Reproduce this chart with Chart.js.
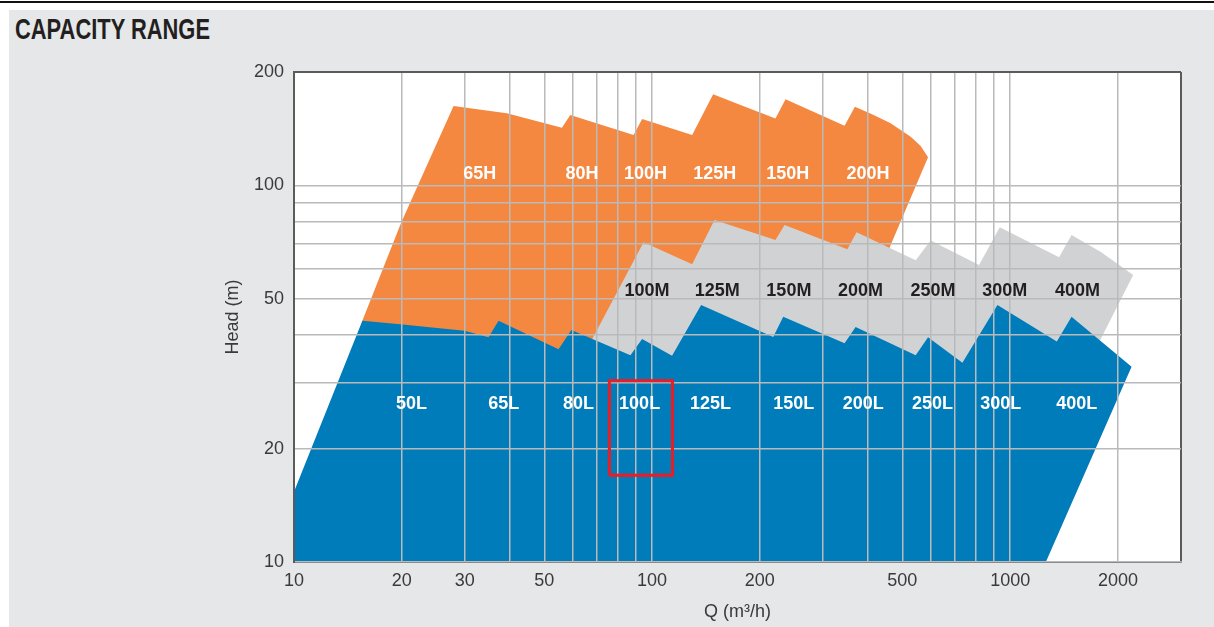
<!DOCTYPE html>
<html>
<head>
<meta charset="utf-8">
<title>Capacity range</title>
<script src="https://cdn.jsdelivr.net/npm/chart.js@4.4.1/dist/chart.umd.min.js"></script>
<style>
  html, body { margin: 0; padding: 0; background: #fff; }
  body { width: 1214px; height: 627px; position: relative; overflow: hidden; }
  #rule { position: absolute; left: 0; top: 1px; width: 1214px; height: 2px; background: #111; }
  #panel { position: absolute; left: 9px; top: 10px; right: 0; bottom: 0; background: #e6e7e8; }
  #heading { position: absolute; left: 15px; top: 14px; font: bold 30px/30px "Liberation Sans", Arial, sans-serif; color: #231f20; transform-origin: 0 0; white-space: nowrap; }
  #graph { position: absolute; left: 0; top: 0; }
</style>
</head>
<body>
<div id="rule"></div>
<div id="panel"></div>
<div id="heading">CAPACITY RANGE</div>
<canvas id="graph" width="1214" height="627"></canvas>
<script>
// axis ticks (grid lines) and which of them carry a label
var qTicks = [10, 20, 30, 40, 50, 60, 70, 80, 90, 100, 200, 300, 400, 500, 600, 700, 800, 900, 1000, 2000, 3000];
var qLabels = [10, 20, 30, 50, 100, 200, 500, 1000, 2000];
var headTicks = [10, 20, 30, 40, 50, 60, 70, 80, 90, 100, 200];
var headLabels = [10, 20, 50, 100, 200];

// H range (orange), outline
var hQ = [15.5, 19.9, 27.9, 39.3, 56.0, 59.1, 88.8, 93.8, 129.4, 148.1, 176.6, 221.1, 235.9, 344.8, 368.5, 412.9, 463.7, 527.5, 562.5, 589.8, 463.7, 407.6, 81.5, 15.8];
var hHead = [43.6, 79.4, 162.5, 155.4, 142.3, 153.8, 136.1, 150.0, 136.1, 174.5, 163.5, 150.6, 169.3, 144.0, 161.8, 154.2, 146.1, 134.6, 127.2, 118.7, 69.4, 49.6, 30.4, 30.4];

// M range (grey)
var mQ = [94.7, 129.4, 149.4, 221.1, 234.4, 351.0, 372.5, 544.8, 599.8, 818.8, 935.2, 1370, 1484, 1792, 2206, 1565, 59.1];
var mHead = [70.6, 61.7, 80.9, 71.6, 78.5, 67.7, 75.1, 63.3, 71.4, 61.5, 77.4, 64.4, 73.8, 66.5, 57.8, 30.4, 30.4];

// L range (blue)
var lQ = [10, 15.52, 19.79, 29.93, 34.93, 37.26, 54.8, 59.5, 87.0, 93.8, 113.7, 137.1, 217.9, 232.4, 344.8, 370.2, 544.8, 589.8, 735.5, 921.5, 1350, 1484, 2183, 1258, 10];
var lHead = [15.37, 43.7, 42.8, 41.1, 39.5, 43.7, 36.7, 41.3, 35.4, 39.1, 35.3, 48.1, 39.6, 44.8, 38.1, 42.1, 35.4, 39.5, 33.8, 48.1, 38.5, 44.8, 33.0, 10, 10];

// red frame round 100L
var boxQ = [76, 114, 114, 76, 76];
var boxHead = [17, 17, 30.3, 30.3, 17];

// pump size names and where they sit
var hNames = ['65H', '80H', '100H', '125H', '150H', '200H'];
var hNameQ = [33.0, 63.7, 95.8, 149.6, 239.4, 400.6];
var hNameHead = 107.9;
var mNames = ['100M', '125M', '150M', '200M', '250M', '300M', '400M'];
var mNameQ = [96.8, 152.0, 241.0, 382.1, 608.8, 966, 1542];
var mNameHead = 52.7;
var lNames = ['50L', '65L', '80L', '100L', '125L', '150L', '200L', '250L', '300L', '400L'];
var lNameQ = [21.3, 38.5, 62.3, 92.3, 145.5, 248.8, 389, 606.5, 941.2, 1535];
var lNameHead = 26.4;

// squeeze the heading to the condensed width of the original
var heading = document.getElementById('heading');
heading.style.transform = 'scaleX(' + (195 / heading.getBoundingClientRect().width) + ')';

function toPoints(xs, ys) {
  return xs.map(function (v, i) { return {x: v, y: ys[i]}; });
}

function area(points, color, order) {
  return {
    data: points,
    showLine: true,
    fill: 'shape',
    backgroundColor: color,
    borderColor: 'rgba(0,0,0,0)',
    borderWidth: 0,
    pointRadius: 0,
    tension: 0,
    order: order
  };
}

var tickFont = {family: '"Liberation Sans", Arial, sans-serif', size: 18};
var textColor = '#3a3a3a';
var edgeColor = '#5b5b5b';

var plotBackground = {
  id: 'plotBackground',
  beforeDraw: function (chart) {
    var a = chart.chartArea;
    chart.ctx.save();
    chart.ctx.fillStyle = '#ffffff';
    chart.ctx.fillRect(a.left, a.top, a.right - a.left, a.bottom - a.top);
    chart.ctx.restore();
  }
};

var zoneLabels = {
  id: 'zoneLabels',
  afterDraw: function (chart) {
    var ctx = chart.ctx;
    var x = chart.scales.x, y = chart.scales.y;
    ctx.save();
    ctx.font = 'bold 18px "Liberation Sans", Arial, sans-serif';
    ctx.textAlign = 'center';
    ctx.textBaseline = 'middle';
    function put(names, qs, head, color) {
      ctx.fillStyle = color;
      for (var i = 0; i < names.length; i++) {
        ctx.fillText(names[i], x.getPixelForValue(qs[i]), y.getPixelForValue(head) + 1);
      }
    }
    put(hNames, hNameQ, hNameHead, '#ffffff');
    put(mNames, mNameQ, mNameHead, '#231f20');
    put(lNames, lNameQ, lNameHead, '#ffffff');
    // the red frame sits above the grid
    chart.getDatasetMeta(0).dataset.draw(ctx, chart.chartArea);
    ctx.restore();
  }
};

var ctx = document.getElementById('graph').getContext('2d');

var graph = new Chart(ctx, {
  type: 'scatter',
  data: {
    datasets: [
      {
        data: toPoints(boxQ, boxHead),
        showLine: true,
        fill: false,
        borderColor: '#e3202a',
        borderWidth: 3,
        pointRadius: 0,
        order: 1
      },
      area(toPoints(lQ, lHead), '#007cba', 2),
      area(toPoints(mQ, mHead), '#d1d2d4', 3),
      area(toPoints(hQ, hHead), '#f48841', 4)
    ]
  },
  options: {
    responsive: false,
    animation: false,
    layout: {padding: {left: 220, top: 72, right: 33, bottom: 0}},
    plugins: {
      legend: {display: false},
      tooltip: {enabled: false}
    },
    scales: {
      x: {
        type: 'logarithmic',
        min: 10,
        max: 3000,
        afterBuildTicks: function (s) { s.ticks = qTicks.map(function (v) { return {value: v}; }); },
        afterFit: function (s) { s.height = 65; },
        grid: {
          z: 1,
          drawTicks: false,
          color: function (c) { return c.tick && c.tick.value === 3000 ? edgeColor : '#bababa'; },
          lineWidth: function (c) { return c.tick && c.tick.value === 3000 ? 2 : 1.5; }
        },
        border: {z: 1, color: edgeColor, width: 2},
        ticks: {
          z: 1,
          autoSkip: false,
          maxRotation: 0,
          padding: 8,
          color: textColor,
          font: tickFont,
          callback: function (v) { return qLabels.indexOf(v) >= 0 ? String(v) : ''; }
        },
        title: {
          display: true,
          text: 'Q (m³/h)',
          color: textColor,
          font: tickFont,
          padding: {top: 0, bottom: 4}
        }
      },
      y: {
        type: 'logarithmic',
        min: 10,
        max: 200,
        afterBuildTicks: function (s) { s.ticks = headTicks.map(function (v) { return {value: v}; }); },
        afterFit: function (s) { s.width = 74; },
        grid: {
          z: 1,
          drawTicks: false,
          color: function (c) { return c.tick && c.tick.value === 200 ? edgeColor : '#bababa'; },
          lineWidth: function (c) { return c.tick && c.tick.value === 200 ? 2 : 1.5; }
        },
        border: {z: 1, color: edgeColor, width: 2},
        ticks: {
          z: 1,
          autoSkip: false,
          padding: 10,
          color: textColor,
          font: tickFont,
          callback: function (v) { return headLabels.indexOf(v) >= 0 ? String(v) : ''; }
        },
        title: {
          display: true,
          text: 'Head (m)',
          color: textColor,
          font: tickFont,
          padding: {top: 2, bottom: 0}
        }
      }
    }
  },
  plugins: [plotBackground, zoneLabels]
});
</script>
</body>
</html>
